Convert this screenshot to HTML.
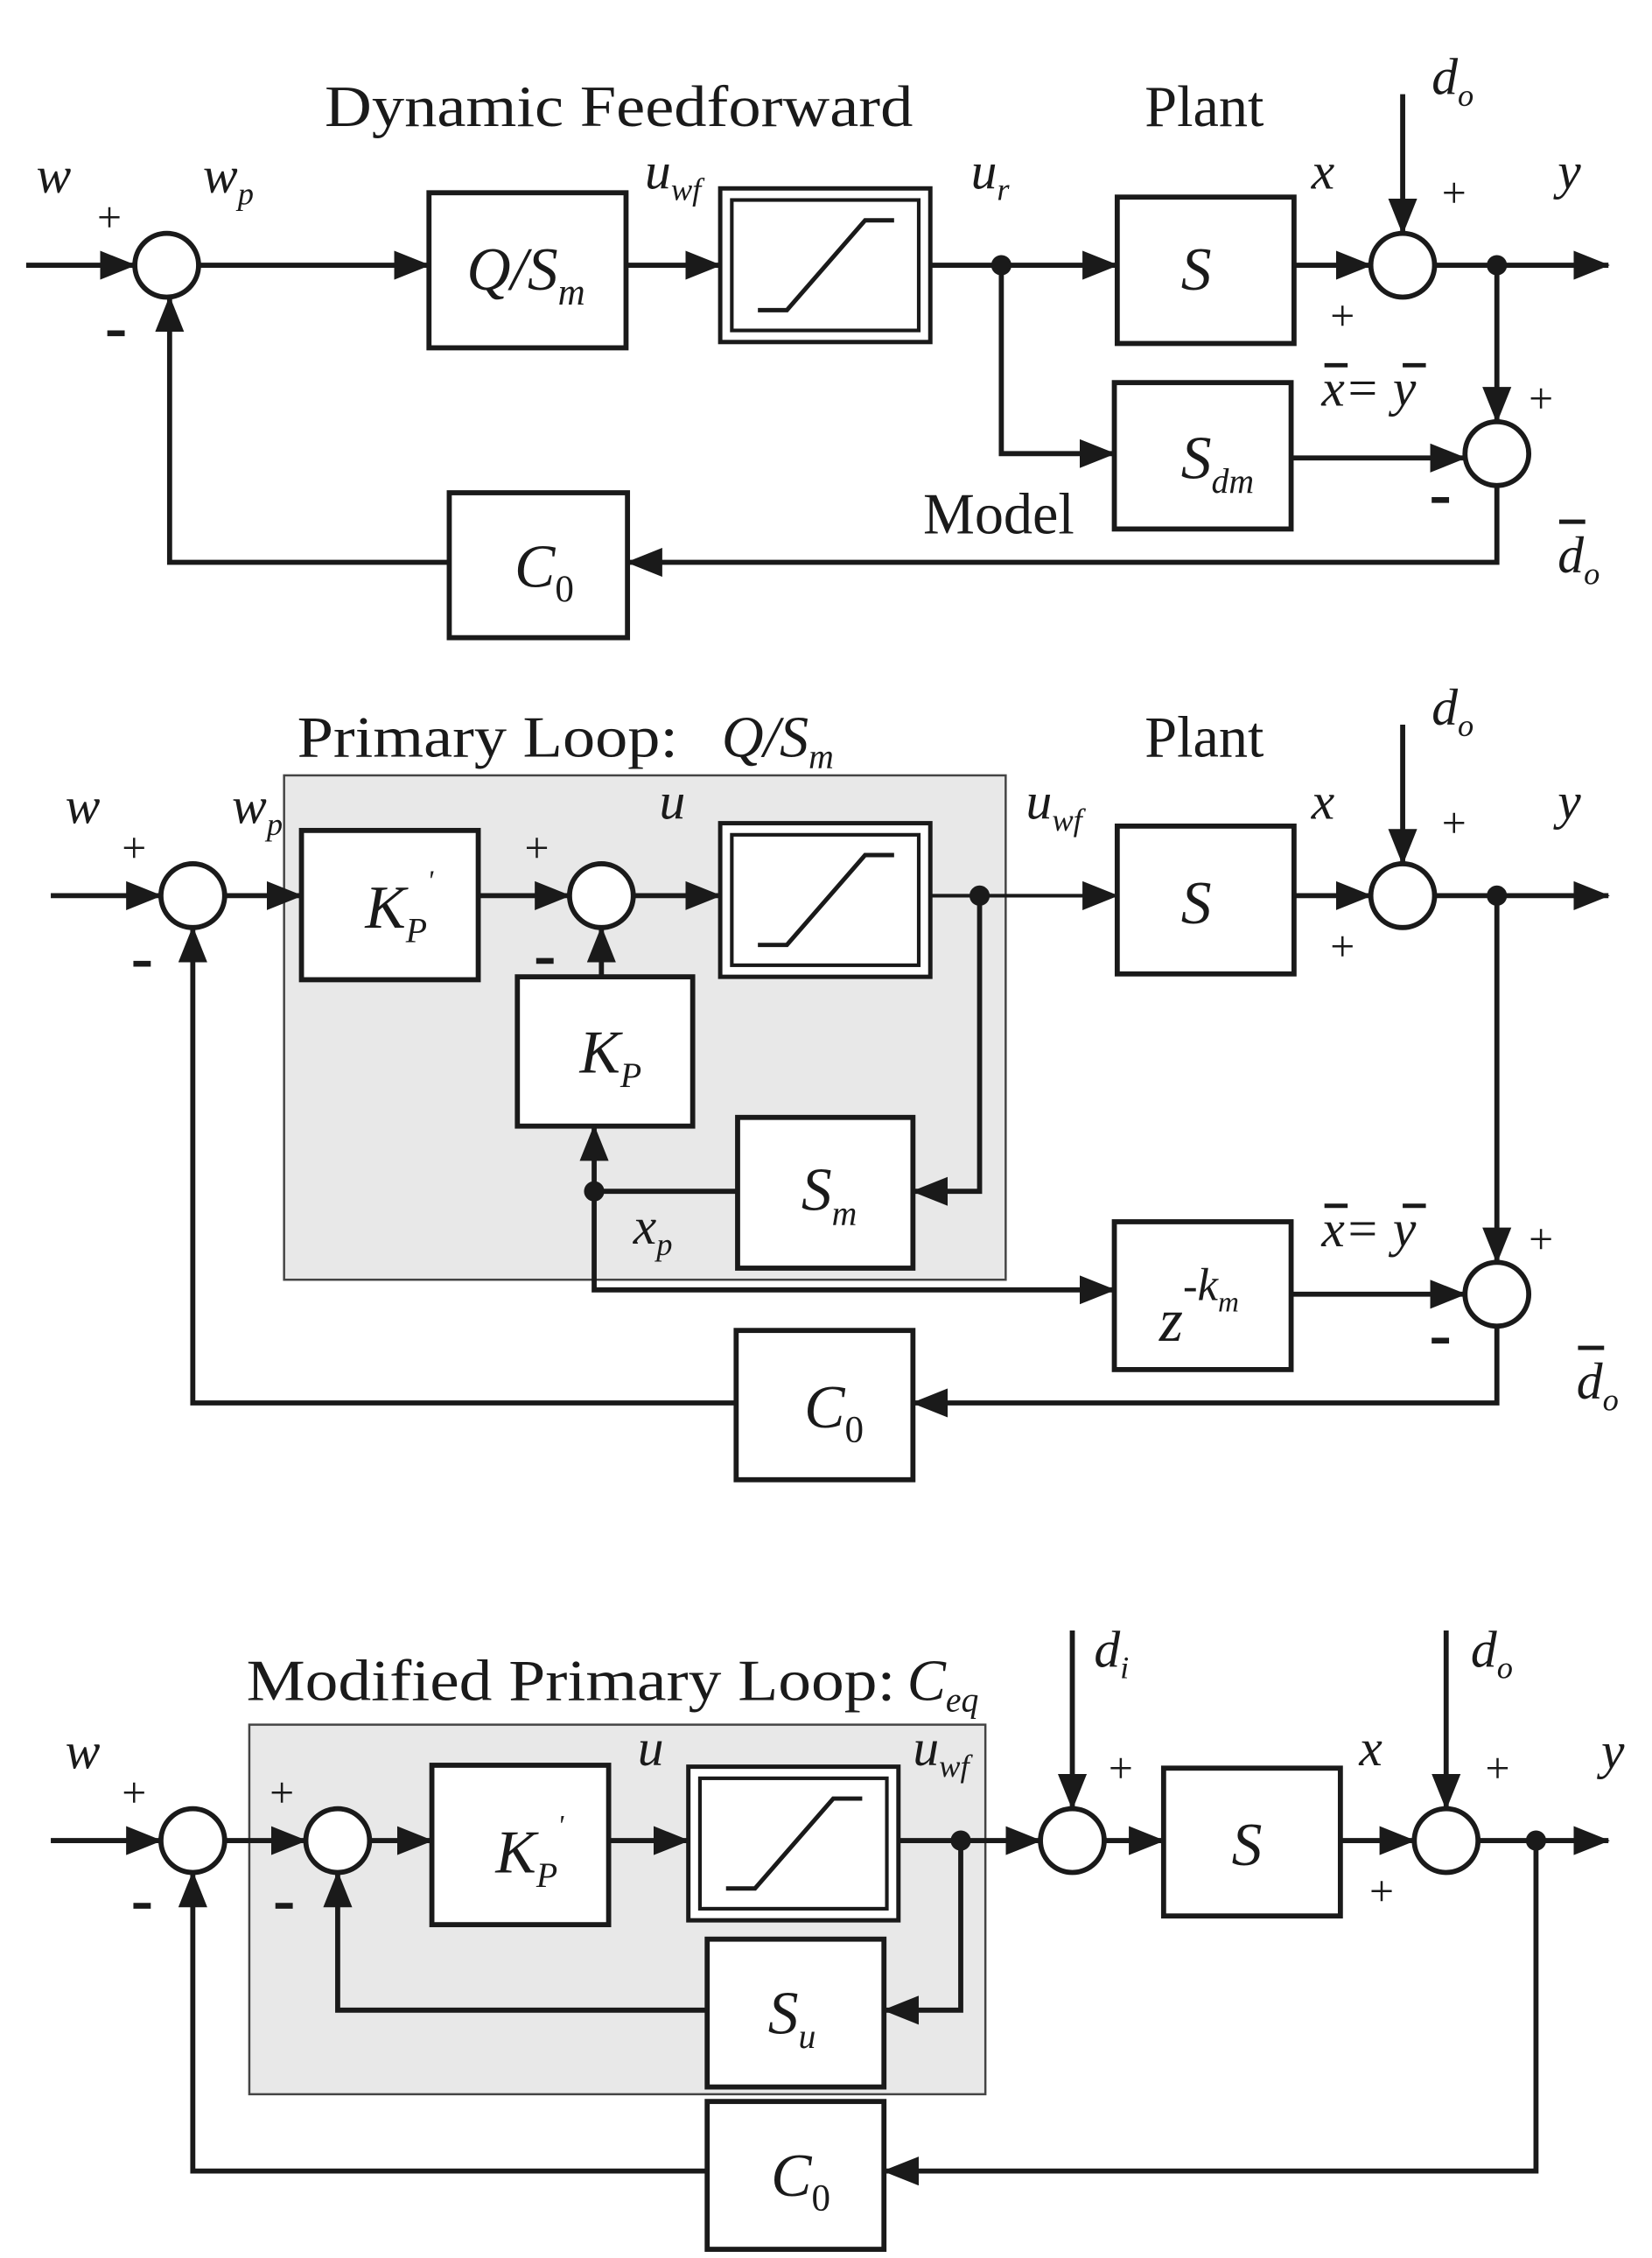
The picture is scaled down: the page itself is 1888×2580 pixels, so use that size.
<!DOCTYPE html>
<html><head><meta charset="utf-8"><style>
html,body{margin:0;padding:0;background:#fff;}
svg{display:block;}
text{font-family:"Liberation Serif",serif;fill:#1a1a1a;}
.i{font-style:italic;}
</style></head><body>
<svg width="1888" height="2580" viewBox="0 0 1140 1558" xmlns="http://www.w3.org/2000/svg">
<defs>
<marker id="a" markerUnits="userSpaceOnUse" markerWidth="26" markerHeight="20" refX="24" refY="10" orient="auto"><path d="M0,0 L25,10 L0,20 Z" fill="#1a1a1a"/></marker>
<g id="sat">
<rect x="0" y="0" width="145" height="106" fill="#fff" stroke="#1a1a1a" stroke-width="3"/>
<rect x="8" y="8" width="129" height="90" fill="none" stroke="#1a1a1a" stroke-width="2.5"/>
<path d="M26,84 L46,84 L100,22 L120,22" fill="none" stroke="#1a1a1a" stroke-width="3"/>
</g>
</defs>
<g stroke="#1a1a1a" stroke-width="3.5" fill="none">
<line x1="18" y1="183" x2="93" y2="183" marker-end="url(#a)"/>
<circle cx="115" cy="183" r="22" fill="#fff"/>
<line x1="137" y1="183" x2="296" y2="183" marker-end="url(#a)"/>
<rect x="296" y="133" width="136" height="107" fill="#fff"/>
<line x1="432" y1="183" x2="497" y2="183" marker-end="url(#a)"/>
<line x1="642" y1="183" x2="771" y2="183" marker-end="url(#a)"/>
<rect x="771" y="136" width="122" height="101" fill="#fff"/>
<line x1="893" y1="183" x2="946" y2="183" marker-end="url(#a)"/>
<circle cx="968" cy="183" r="22" fill="#fff"/>
<line x1="968" y1="65" x2="968" y2="161" marker-end="url(#a)"/>
<line x1="990" y1="183" x2="1110" y2="183" marker-end="url(#a)"/>
<line x1="1033" y1="183" x2="1033" y2="291" marker-end="url(#a)"/>
<circle cx="1033" cy="313" r="22" fill="#fff"/>
<polyline points="691,183 691,313 769,313" marker-end="url(#a)"/>
<rect x="769" y="264" width="122" height="101" fill="#fff"/>
<line x1="891" y1="316" x2="1011" y2="316" marker-end="url(#a)"/>
<polyline points="1033,335 1033,388 433,388" marker-end="url(#a)"/>
<rect x="310" y="340" width="123" height="100" fill="#fff"/>
<polyline points="310,388 117,388 117,205" marker-end="url(#a)"/>
</g>
<use href="#sat" x="497" y="130"/>
<circle cx="691" cy="183" r="7" fill="#1a1a1a"/>
<circle cx="1033" cy="183" r="7" fill="#1a1a1a"/>
<g font-size="40">
<text x="224" y="87" textLength="406" lengthAdjust="spacingAndGlyphs">Dynamic Feedforward</text>
<text x="790" y="87">Plant</text>
<text x="637" y="368">Model</text>
</g>
<g font-size="36" class="i">
<text class="i" x="25" y="133">w</text>
<text class="i" x="140" y="133">w<tspan font-size="22" dy="8">p</tspan></text>
<text class="i" x="445" y="130">u<tspan font-size="22" dy="8">wf</tspan></text>
<text class="i" x="670" y="130">u<tspan font-size="22" dy="8">r</tspan></text>
<text class="i" x="905" y="130">x</text>
<text class="i" x="1075" y="130">y</text>
<text class="i" x="988" y="65">d<tspan font-size="22" dy="8">o</tspan></text>
<text class="i" x="322" y="200" font-size="42">Q/S<tspan font-size="26" dy="10">m</tspan></text>
<text class="i" x="815" y="200" font-size="42">S</text>
<text class="i" x="815" y="330" font-size="42">S<tspan font-size="24" dy="10">dm</tspan></text>
<text class="i" x="355" y="405" font-size="42">C<tspan font-size="26" dy="10" font-style="normal">0</tspan></text>
<text class="i" x="912" y="280">x= y</text>
<text class="i" x="1075" y="395">d<tspan font-size="22" dy="8">o</tspan></text>
</g>
<g stroke="#1a1a1a" stroke-width="3"><line x1="914" y1="252" x2="930" y2="252"/><line x1="968" y1="252" x2="984" y2="252"/><line x1="1076" y1="360" x2="1094" y2="360"/></g>
<g font-size="30">
<text x="67" y="160">+</text><text x="995" y="143">+</text><text x="918" y="228">+</text><text x="1055" y="285">+</text>
</g>
<g stroke="#1a1a1a" stroke-width="4"><line x1="74" y1="230" x2="86" y2="230"/><line x1="988" y1="345" x2="1000" y2="345"/></g>

<rect x="196" y="535" width="498" height="348" fill="#e8e8e8" stroke="#444" stroke-width="1.5"/>
<g stroke="#1a1a1a" stroke-width="3.5" fill="none">
<line x1="35" y1="618" x2="111" y2="618" marker-end="url(#a)"/>
<circle cx="133" cy="618" r="22" fill="#fff"/>
<line x1="155" y1="618" x2="208" y2="618" marker-end="url(#a)"/>
<rect x="208" y="573" width="122" height="103" fill="#fff"/>
<line x1="330" y1="618" x2="393" y2="618" marker-end="url(#a)"/>
<circle cx="415" cy="618" r="22" fill="#fff"/>
<line x1="437" y1="618" x2="497" y2="618" marker-end="url(#a)"/>
<line x1="642" y1="618" x2="771" y2="618" marker-end="url(#a)" stroke-width="2.5"/>
<rect x="771" y="570" width="122" height="102" fill="#fff"/>
<line x1="893" y1="618" x2="946" y2="618" marker-end="url(#a)"/>
<circle cx="968" cy="618" r="22" fill="#fff"/>
<line x1="968" y1="500" x2="968" y2="596" marker-end="url(#a)"/>
<line x1="990" y1="618" x2="1110" y2="618" marker-end="url(#a)"/>
<line x1="415" y1="674" x2="415" y2="640" marker-end="url(#a)"/>
<rect x="357" y="674" width="121" height="103" fill="#fff"/>
<polyline points="676,618 676,822 630,822" marker-end="url(#a)"/>
<rect x="509" y="771" width="121" height="104" fill="#fff"/>
<line x1="509" y1="822" x2="410" y2="822"/>
<line x1="410" y1="822" x2="410" y2="777" marker-end="url(#a)"/>
<polyline points="410,822 410,890 769,890" marker-end="url(#a)"/>
<rect x="769" y="843" width="122" height="102" fill="#fff"/>
<line x1="891" y1="893" x2="1011" y2="893" marker-end="url(#a)"/>
<line x1="1033" y1="618" x2="1033" y2="871" marker-end="url(#a)"/>
<circle cx="1033" cy="893" r="22" fill="#fff"/>
<polyline points="1033,915 1033,968 630,968" marker-end="url(#a)"/>
<rect x="508" y="918" width="122" height="103" fill="#fff"/>
<polyline points="508,968 133,968 133,640" marker-end="url(#a)"/>
</g>
<use href="#sat" x="497" y="568"/>
<circle cx="676" cy="618" r="7" fill="#1a1a1a"/>
<circle cx="1033" cy="618" r="7" fill="#1a1a1a"/>
<circle cx="410" cy="822" r="7" fill="#1a1a1a"/>
<g font-size="40">
<text x="205" y="522" textLength="263" lengthAdjust="spacingAndGlyphs">Primary Loop:</text>
<text class="i" x="498" y="522">Q/S<tspan font-size="24" dy="8">m</tspan></text>
<text x="790" y="522">Plant</text>
</g>
<g font-size="36">
<text class="i" x="45" y="568">w</text>
<text class="i" x="160" y="568">w<tspan font-size="22" dy="8">p</tspan></text>
<text class="i" x="455" y="565">u</text>
<text class="i" x="708" y="565">u<tspan font-size="22" dy="8">wf</tspan></text>
<text class="i" x="905" y="565">x</text>
<text class="i" x="1075" y="565">y</text>
<text class="i" x="988" y="500">d<tspan font-size="22" dy="8">o</tspan></text>
<text class="i" x="252" y="640" font-size="42">K<tspan font-size="24" dy="10">P</tspan><tspan font-size="20" dy="-36">'</tspan></text>
<text class="i" x="400" y="740" font-size="42">K<tspan font-size="24" dy="10">P</tspan></text>
<text class="i" x="815" y="637" font-size="42">S</text>
<text class="i" x="553" y="835" font-size="42">S<tspan font-size="24" dy="10">m</tspan></text>
<text class="i" x="437" y="858">x<tspan font-size="22" dy="8">p</tspan></text>
<text class="i" x="800" y="925" font-size="42">z<tspan font-size="30" dy="-28" font-style="normal">-</tspan><tspan font-size="32">k</tspan><tspan font-size="20" dy="8">m</tspan></text>
<text class="i" x="555" y="985" font-size="42">C<tspan font-size="26" dy="10" font-style="normal">0</tspan></text>
<text class="i" x="912" y="860">x= y</text>
<text class="i" x="1088" y="965">d<tspan font-size="22" dy="8">o</tspan></text>
</g>
<g stroke="#1a1a1a" stroke-width="3"><line x1="914" y1="832" x2="930" y2="832"/><line x1="968" y1="832" x2="984" y2="832"/><line x1="1089" y1="930" x2="1107" y2="930"/></g>
<g font-size="30">
<text x="84" y="595">+</text><text x="362" y="595">+</text><text x="995" y="578">+</text><text x="918" y="663">+</text><text x="1055" y="865">+</text>
</g>
<g stroke="#1a1a1a" stroke-width="4"><line x1="92" y1="665" x2="104" y2="665"/><line x1="370" y1="663" x2="382" y2="663"/><line x1="988" y1="925" x2="1000" y2="925"/></g>

<rect x="172" y="1190" width="508" height="255" fill="#e8e8e8" stroke="#444" stroke-width="1.5"/>
<g stroke="#1a1a1a" stroke-width="3.5" fill="none">
<line x1="35" y1="1270" x2="111" y2="1270" marker-end="url(#a)"/>
<circle cx="133" cy="1270" r="22" fill="#fff"/>
<line x1="155" y1="1270" x2="211" y2="1270" marker-end="url(#a)"/>
<circle cx="233" cy="1270" r="22" fill="#fff"/>
<line x1="255" y1="1270" x2="298" y2="1270" marker-end="url(#a)"/>
<rect x="298" y="1218" width="122" height="110" fill="#fff"/>
<line x1="420" y1="1270" x2="475" y2="1270" marker-end="url(#a)"/>
<line x1="620" y1="1270" x2="718" y2="1270" marker-end="url(#a)"/>
<circle cx="740" cy="1270" r="22" fill="#fff"/>
<line x1="740" y1="1125" x2="740" y2="1248" marker-end="url(#a)"/>
<line x1="762" y1="1270" x2="803" y2="1270" marker-end="url(#a)"/>
<rect x="803" y="1220" width="122" height="102" fill="#fff"/>
<line x1="925" y1="1270" x2="976" y2="1270" marker-end="url(#a)"/>
<circle cx="998" cy="1270" r="22" fill="#fff"/>
<line x1="998" y1="1125" x2="998" y2="1248" marker-end="url(#a)"/>
<line x1="1020" y1="1270" x2="1110" y2="1270" marker-end="url(#a)"/>
<polyline points="663,1270 663,1387 610,1387" marker-end="url(#a)"/>
<rect x="488" y="1338" width="122" height="102" fill="#fff"/>
<polyline points="488,1387 233,1387 233,1292" marker-end="url(#a)"/>
<polyline points="1060,1270 1060,1498 610,1498" marker-end="url(#a)"/>
<rect x="488" y="1450" width="122" height="102" fill="#fff"/>
<polyline points="488,1498 133,1498 133,1292" marker-end="url(#a)"/>
</g>
<use href="#sat" x="475" y="1219"/>
<circle cx="663" cy="1270" r="7" fill="#1a1a1a"/>
<circle cx="1060" cy="1270" r="7" fill="#1a1a1a"/>
<g font-size="40">
<text x="170" y="1173" textLength="448" lengthAdjust="spacingAndGlyphs">Modified Primary Loop:</text>
<text class="i" x="626" y="1173">C<tspan font-size="24" dy="8">eq</tspan></text>
</g>
<g font-size="36">
<text class="i" x="45" y="1220">w</text>
<text class="i" x="440" y="1218">u</text>
<text class="i" x="630" y="1218">u<tspan font-size="22" dy="8">wf</tspan></text>
<text class="i" x="755" y="1150">d<tspan font-size="22" dy="8">i</tspan></text>
<text class="i" x="1015" y="1150">d<tspan font-size="22" dy="8">o</tspan></text>
<text class="i" x="938" y="1218">x</text>
<text class="i" x="1105" y="1220">y</text>
<text class="i" x="342" y="1292" font-size="42">K<tspan font-size="24" dy="10">P</tspan><tspan font-size="20" dy="-36">'</tspan></text>
<text class="i" x="850" y="1287" font-size="42">S</text>
<text class="i" x="530" y="1403" font-size="42">S<tspan font-size="24" dy="10">u</tspan></text>
<text class="i" x="532" y="1515" font-size="42">C<tspan font-size="26" dy="10" font-style="normal">0</tspan></text>
</g>
<g font-size="30">
<text x="84" y="1247">+</text><text x="186" y="1247">+</text><text x="765" y="1230">+</text><text x="1025" y="1230">+</text><text x="945" y="1315">+</text>
</g>
<g stroke="#1a1a1a" stroke-width="4"><line x1="92" y1="1315" x2="104" y2="1315"/><line x1="190" y1="1315" x2="202" y2="1315"/></g>
</svg>
</body></html>
